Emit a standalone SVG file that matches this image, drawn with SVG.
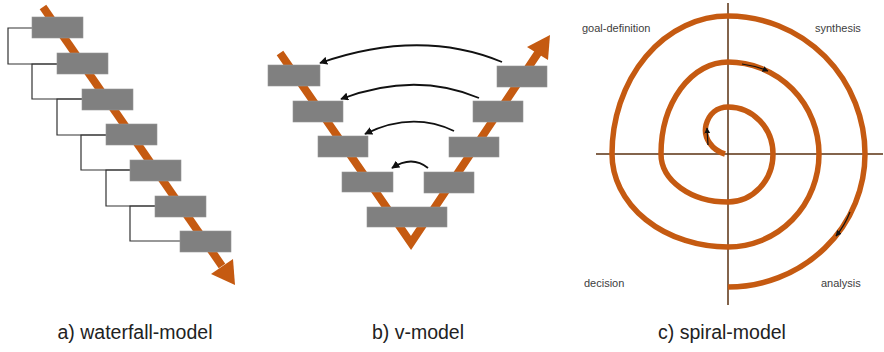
<svg xmlns="http://www.w3.org/2000/svg" width="884" height="352" viewBox="0 0 884 352">
<defs>
<style>
.box{fill:#808080;stroke:#959595;stroke-width:0.6}
.orange{stroke:#C55A11;stroke-width:8;fill:none}
.ohead{fill:#C55A11}
.br{fill:none;stroke:#333;stroke-width:1.2}
.cur{fill:none;stroke:#111;stroke-width:1.8}
.sp{fill:none;stroke:#C55A11;stroke-width:5.5}
.ax{stroke:#5a3010;stroke-width:1.5}
.sa{fill:none;stroke:#111;stroke-width:1.2}
.lbl{font-family:"Liberation Sans",Arial,sans-serif;font-size:11px;fill:#404040}
.cap{font-family:"Liberation Sans",Arial,sans-serif;font-size:19.5px;fill:#222;text-anchor:middle}
</style>
<marker id="ah" viewBox="0 0 10 10" refX="9" refY="5" markerWidth="6" markerHeight="6" markerUnits="userSpaceOnUse" orient="auto"><path d="M0 0 L10 5 L0 10 Z" fill="#111"/></marker>
<marker id="ah2" viewBox="0 0 10 10" refX="9" refY="5" markerWidth="8" markerHeight="8" markerUnits="userSpaceOnUse" orient="auto"><path d="M0 0 L10 5 L0 10 Z" fill="#111"/></marker>
</defs>

<!-- a) waterfall -->
<g id="waterfall-arrow">
<line class="orange" x1="43" y1="7" x2="222" y2="266"/>
<polygon class="ohead" points="235,285 233,259 211,274"/>
</g>
<g id="waterfall-connectors">
<path class="br" d="M32 28 H8 V64 H57"/>
<path class="br" d="M57 64 H32 V99 H82"/>
<path class="br" d="M82 99 H57 V135 H106"/>
<path class="br" d="M106 135 H81 V170 H130"/>
<path class="br" d="M130 170 H106 V206 H155"/>
<path class="br" d="M155 206 H130 V241 H180"/>
</g>
<g id="wf1"><rect class="box" x="32" y="17" width="51" height="21"/></g>
<g id="wf2"><rect class="box" x="57" y="53" width="51" height="21"/></g>
<g id="wf3"><rect class="box" x="82" y="89" width="51" height="21"/></g>
<g id="wf4"><rect class="box" x="106" y="124" width="51" height="21"/></g>
<g id="wf5"><rect class="box" x="130" y="160" width="51" height="21"/></g>
<g id="wf6"><rect class="box" x="155" y="196" width="51" height="21"/></g>
<g id="wf7"><rect class="box" x="180" y="231" width="51" height="21"/></g>

<!-- b) v-model -->
<g id="v-arrow">
<polyline class="orange" points="280,53 411,243 540,50" stroke-linejoin="miter"/>
<polygon class="ohead" points="550,35 548,60 527,47"/>
</g>
<g id="vl1"><rect class="box" x="268" y="65" width="52" height="21"/></g>
<g id="vl2"><rect class="box" x="293" y="101" width="50" height="21"/></g>
<g id="vl3"><rect class="box" x="318" y="136" width="50" height="21"/></g>
<g id="vl4"><rect class="box" x="342" y="172" width="51" height="20"/></g>
<g id="vb"><rect class="box" x="367" y="207" width="80" height="20"/></g>
<g id="vr1"><rect class="box" x="497" y="66" width="50" height="21"/></g>
<g id="vr2"><rect class="box" x="473" y="101" width="50" height="21"/></g>
<g id="vr3"><rect class="box" x="449" y="137" width="50" height="20"/></g>
<g id="vr4"><rect class="box" x="424" y="172" width="50" height="21"/></g>
<g id="v-connectors">
<path class="cur" d="M502 62 Q420 28 320 63" marker-end="url(#ah2)"/>
<path class="cur" d="M479 98 Q415 71 341 99" marker-end="url(#ah2)"/>
<path class="cur" d="M454 131 Q412 111 365 134" marker-end="url(#ah2)"/>
<path class="cur" d="M428 168 Q412 155 392 168" marker-end="url(#ah2)"/>
</g>

<!-- c) spiral -->
<g id="spiral">
<line class="ax" x1="728" y1="3" x2="728" y2="305"/>
<line class="ax" x1="596" y1="154" x2="883" y2="154"/>
<path class="sp" d="M725 154 C712 150 703 138 706 125 C709 114 717 107 728 107 A45 47 0 0 1 773 154 A45 48 0 0 1 728 202 A67 48 0 0 1 661 154 A67 92 0 0 1 728 62 A91 92 0 0 1 819 154 A91 93 0 0 1 728 247 A116 93 0 0 1 612 154 A116 138 0 0 1 728 16 A137 138 0 0 1 865 154 A137 133 0 0 1 728 287"/>
<path class="sa" d="M742 64 Q756 66 768 71" marker-end="url(#ah)"/>
<path class="sa" d="M850 212 Q845 225 836 236" marker-end="url(#ah)"/>
<path class="sa" d="M708 145 L707 128" marker-end="url(#ah)"/>
</g>
<g id="spiral-labels">
<text class="lbl" x="582" y="32">goal-definition</text>
<text class="lbl" x="815" y="32">synthesis</text>
<text class="lbl" x="584" y="287">decision</text>
<text class="lbl" x="821" y="287">analysis</text>
</g>

<g id="captions">
<text class="cap" x="135" y="339">a) waterfall-model</text>
<text class="cap" x="418" y="339">b) v-model</text>
<text class="cap" x="722" y="339">c) spiral-model</text>
</g>
</svg>
